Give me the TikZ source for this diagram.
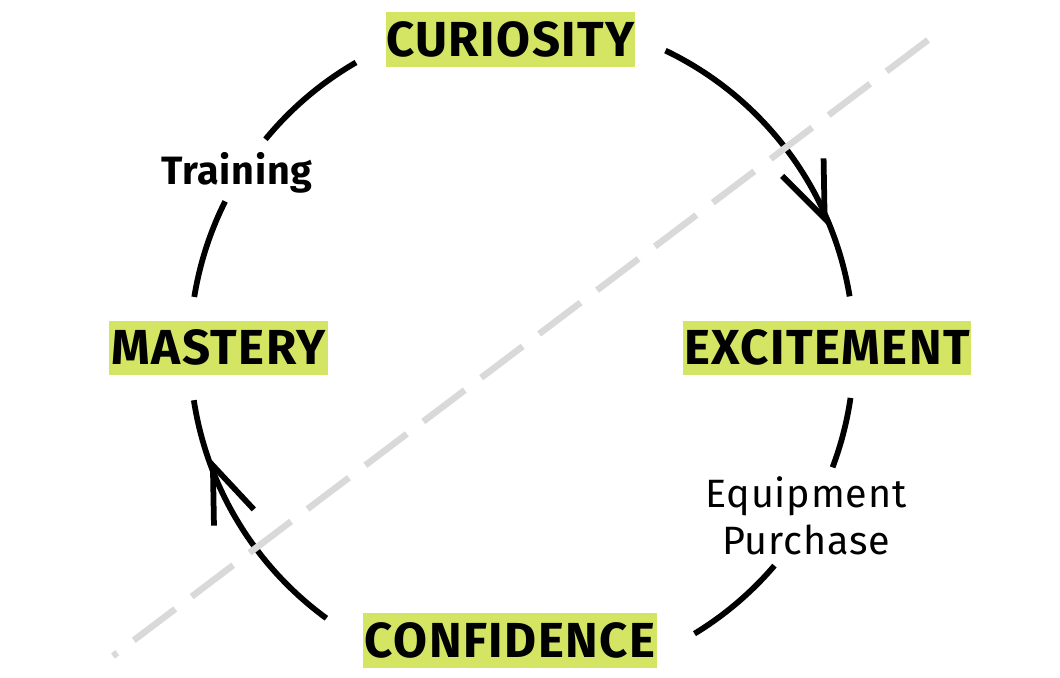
\documentclass[tikz,border=0pt]{standalone}
\usepackage{fontspec}
\setmainfont{Fira Sans}
\usetikzlibrary{calc}
\definecolor{hilite}{RGB}{212,229,99}
\definecolor{dashgray}{RGB}{217,217,217}
\tikzset{
  stage/.style={fill=hilite, inner xsep=0pt, inner ysep=0.21cm,
    text height=0.68cm, text depth=0pt,
    font=\bfseries\fontsize{28}{28}\selectfont\addfontfeatures{LetterSpace=3}},
  cycle/.style={line width=0.115cm, black, line cap=butt},
  barb/.style={line width=0.115cm, black, line join=miter, line cap=butt},
  divider/.style={line width=0.13cm, dashgray, dash pattern=on 1.04cm off 0.412cm},
  side/.style={font=\fontsize{22.5}{27.3}\selectfont\addfontfeatures{LetterSpace=2}},
  sidebold/.style={font=\bfseries\fontsize{22.5}{27.3}\selectfont\addfontfeatures{LetterSpace=2}}
}
\begin{document}
\begin{tikzpicture}[x=0.02cm,y=-0.02cm]
\path[use as bounding box] (0,0) rectangle (1060,678);
\coordinate (C) at (522,350);

% stage labels
\node[stage, minimum width=4.94cm] (cur) at (510.5,40) {CURIOSITY};
\node[stage, minimum width=5.76cm] (exc) at (827,348) {EXCITEMENT};
\node[stage, minimum width=5.88cm] (con) at (510,640) {CONFIDENCE};
\node[stage, minimum width=4.38cm] (mas) at (218.5,348) {MASTERY};

% side labels
\node[sidebold, anchor=base] (train) at (237,185) {Training};
\node[side, anchor=base] (equip) at (806,507)
  {\begin{tabular}[t]{@{}c@{}}Equipment\\Purchase\end{tabular}};

% cycle arcs
\draw[cycle] (C) ++(-64.4:332) arc[start angle=-64.4, end angle=-9.3, radius=332];
\draw[cycle] (C) ++(8.3:332) arc[start angle=8.3, end angle=20.7, radius=332];
\draw[cycle] (C) ++(40.5:332) arc[start angle=40.5, end angle=58.7, radius=332];
\draw[cycle] (C) ++(126.1:332) arc[start angle=126.1, end angle=171.3, radius=332];
\draw[cycle] (C) ++(-170.8:332) arc[start angle=-170.8, end angle=-153.4, radius=332];
\draw[cycle] (C) ++(-140.6:332) arc[start angle=-140.6, end angle=-120, radius=332];

% arrow heads
\coordinate (tipA) at ($(C)+(-23.5:330)$);
\draw[barb] (tipA) ++(-91:60) -- (tipA) -- ++(-135:60);
\coordinate (tipB) at ($(C)+(159.5:330)$);
\draw[barb] (tipB) ++(89:60) -- (tipB) -- ++(47:60);

% dashed divider
\coordinate (d1) at (928,40);
\coordinate (d2) at (113,656);
\draw[divider] (d1) -- (d2);
\end{tikzpicture}
\end{document}
